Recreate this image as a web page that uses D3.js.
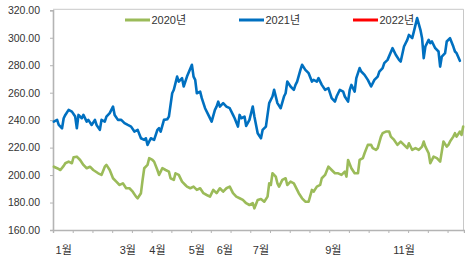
<!DOCTYPE html>
<html><head><meta charset="utf-8">
<script src="https://cdn.jsdelivr.net/npm/d3@7"></script>
<style>html,body{margin:0;padding:0;background:#fff;}svg{display:block;}</style>
</head><body>
<svg id="c" width="465" height="259"></svg>
<script>
const categoryCount = 250;
const seriesNames = ["2020년", "2021년", "2022년"];
const seriesColors = ["#9bbb59", "#0070c0", "#ff0000"];

const days2020 = [0,2,4,6,7,9,11,12,14,16,18,20,22,24,27,29,31,32,34,36,38,40,42,44,46,48,50,51,53,54,55,57,58,60,61,63,64,65,66,68,70,71,73,74,76,78,80,81,83,85,87,89,91,93,95,97,99,101,103,105,107,109,111,113,115,117,119,121,122,124,126,128,130,131,132,133,135,136,137,139,141,142,144,146,148,149,151,153,155,157,158,160,162,163,165,167,169,171,173,175,177,178,179,181,183,185,186,188,189,191,193,194,196,197,199,200,202,204,205,207,209,211,213,215,216,218,220,222,224,225,226,228,229,231,233,235,236,237,239,240,241,243,244,245,247,248,249];
const values2020 = [206.1,205.0,203.7,206.7,208.6,209.8,208.6,213.0,213.4,211.0,207.4,205.0,206.1,203.7,201.3,200.1,206.1,207.4,203.7,197.7,195.2,192.8,194.0,190.4,190.4,187.9,184.3,183.1,186.8,196.5,205.0,207.4,212.3,211.0,209.8,203.7,200.1,202.5,205.0,203.7,202.5,197.7,196.5,201.3,200.1,195.2,192.8,191.6,190.4,191.6,189.2,190.4,186.8,185.5,184.3,189.2,186.8,190.4,187.9,190.4,191.6,186.8,184.3,183.1,181.9,179.5,178.2,179.5,175.8,181.9,182.6,180.6,184.3,194.0,192.8,201.3,198.9,194.0,191.6,196.5,197.7,192.8,195.2,194.0,189.2,186.8,183.1,180.6,180.6,189.2,187.9,191.6,192.8,197.7,200.1,206.1,203.7,201.3,201.3,200.1,202.5,198.9,211.0,205.0,201.3,201.3,211.0,212.3,215.9,222.0,222.0,219.6,218.3,219.6,228.0,230.5,231.7,231.7,228.0,225.6,222.0,224.4,222.0,219.6,223.2,218.3,219.6,218.3,220.7,224.4,220.7,215.9,208.6,213.4,212.3,209.8,217.1,224.4,220.7,222.0,224.4,228.0,230.5,228.0,231.7,229.2,235.3];

const days2021 = [0,2,3,5,6,7,9,11,13,14,15,17,18,20,21,23,25,26,28,29,31,32,34,36,37,39,41,43,45,47,49,51,53,55,56,57,59,61,63,64,65,67,69,70,72,73,75,76,78,79,81,84,85,86,87,89,90,92,94,96,98,99,100,101,103,105,107,109,110,112,113,114,116,117,119,121,122,124,126,127,129,131,133,134,136,138,140,141,142,144,146,147,148,150,151,153,155,157,158,160,161,163,165,167,169,171,172,174,176,177,179,180,181,183,184,186,187,189,191,193,195,197,198,200,201,203,206,208,210,211,213,215,216,218,219,221,223,224,225,226,228,229,230,232,234,235,236,238,239,241,243,244,245,247];
const values2021 = [238.9,240.2,236.5,234.1,241.4,243.8,247.5,246.2,242.6,234.1,243.8,241.4,243.8,238.9,240.2,236.5,240.2,236.5,232.9,240.2,238.9,242.6,245.1,249.9,243.8,240.2,240.2,237.8,236.5,235.3,231.7,232.9,226.8,225.6,226.8,222.0,226.8,225.6,232.9,234.1,231.7,240.2,240.7,242.6,259.6,262.1,271.7,268.1,270.6,264.5,271.7,280.3,271.7,269.3,259.6,260.8,256.0,248.7,243.8,238.9,247.5,249.9,253.5,249.9,252.4,249.9,248.7,243.8,241.4,235.3,243.8,241.4,242.6,235.8,240.2,249.9,242.6,230.5,226.8,232.9,235.3,252.4,257.2,262.1,252.4,248.7,257.2,259.6,268.1,264.5,262.1,265.7,268.1,276.6,280.3,276.6,274.2,268.1,269.3,268.1,270.6,265.7,262.1,263.3,256.0,253.5,257.2,262.1,260.8,257.2,253.5,262.1,265.7,260.8,270.6,277.9,275.4,273.0,269.3,264.5,269.3,271.7,275.4,277.9,281.5,283.9,292.4,287.6,283.9,282.7,293.6,298.5,302.1,299.7,304.5,314.3,305.8,299.7,285.2,293.6,298.5,296.1,297.3,292.4,290.0,279.0,286.3,288.8,297.3,299.7,293.6,290.0,288.8,283.2];

const days2022 = [];
const values2022 = [];

const yTickValues = [160,180,200,220,240,260,280,300,320];
const monthLabels = ["1월","3월","4월","5월","6월","7월","9월","11월"];
const monthLabelDays = [6,45,63,87,104,126,170,213];
const tickEveryDays = 12;

const margin = {left: 53, right: 464, top: 10.3, bottom: 230};
const svg = d3.select("#c");
const font = "'Liberation Sans', Arial, 'Noto Sans CJK KR', sans-serif";

const x = d3.scaleLinear().domain([0, categoryCount]).range([margin.left, margin.right]);
const y = d3.scaleLinear().domain([160, 320]).range([margin.bottom, margin.top]);

// plot area border (top/right)
svg.append("path")
  .attr("d", `M${margin.left},${margin.top - 1} H${margin.right - 0.5} V${margin.bottom}`)
  .attr("fill", "none").attr("stroke", "#c8c8c8").attr("stroke-width", 1);

// Y axis
const yAxis = d3.axisLeft(y).tickValues(yTickValues).tickSize(3).tickPadding(10)
  .tickFormat(d3.format(".2f"));
const gy = svg.append("g").attr("transform", `translate(${margin.left},0)`).call(yAxis);
gy.select(".domain").attr("stroke", "#b4b4b4").attr("stroke-width", 1.6);
gy.selectAll(".tick line").attr("stroke", "#b4b4b4");
gy.selectAll(".tick text").attr("font-family", font).attr("font-size", 10.5).attr("fill", "#333");

// X axis
const tickDays = d3.range(0, categoryCount + 1, tickEveryDays);
const xAxis = d3.axisBottom(x).tickValues(tickDays).tickSize(3).tickFormat("");
const gx = svg.append("g").attr("transform", `translate(0,${margin.bottom})`).call(xAxis);
gx.select(".domain").attr("stroke", "#b4b4b4").attr("stroke-width", 1.4);
gx.selectAll(".tick line").attr("stroke", "#b4b4b4");

svg.append("g").selectAll("text").data(monthLabels).join("text")
  .attr("x", (d, i) => x(monthLabelDays[i] + 0.5))
  .attr("y", 250).attr("dy", "0.35em").attr("text-anchor", "middle")
  .attr("font-family", font).attr("font-size", 11).attr("fill", "#333")
  .text(d => d);

// Lines
const line = d3.line().x(d => x(d[0] + 0.5)).y(d => y(d[1]));
const series = [
  d3.zip(days2020, values2020),
  d3.zip(days2021, values2021),
  d3.zip(days2022, values2022)
];
series.forEach((s, i) => {
  if (!s.length) return;
  svg.append("path").datum(s).attr("d", line)
    .attr("fill", "none").attr("stroke", seriesColors[i])
    .attr("stroke-width", 2.6).attr("stroke-linejoin", "round").attr("stroke-linecap", "round");
});

// Legend
const legendX = [125, 239, 353];
const lg = svg.append("g");
seriesNames.forEach((name, i) => {
  lg.append("line").attr("x1", legendX[i]).attr("x2", legendX[i] + 25)
    .attr("y1", 20).attr("y2", 20).attr("stroke", seriesColors[i]).attr("stroke-width", 3);
  lg.append("text").attr("x", legendX[i] + 26.5).attr("y", 20).attr("dy", "0.35em")
    .attr("font-family", font).attr("font-size", 11).attr("fill", "#333").text(name);
});
</script>
</body></html>
